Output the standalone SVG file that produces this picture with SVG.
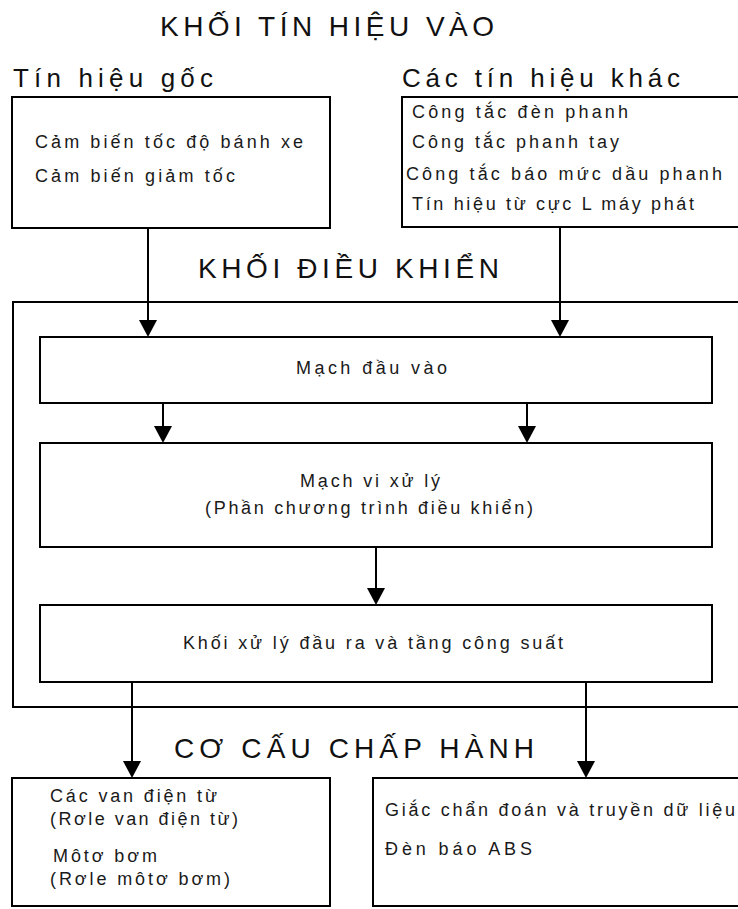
<svg xmlns="http://www.w3.org/2000/svg" width="738" height="909" viewBox="0 0 738 909">
<style>
  .box { fill: #ffffff; stroke: #000000; stroke-width: 2; }
  .title { font-family: "Liberation Sans", Arial, sans-serif; font-size: 28px; fill: #111111; }
  .sub { font-family: "Liberation Sans", Arial, sans-serif; font-size: 26px; fill: #111111; }
  .t { font-family: "Liberation Sans", Arial, sans-serif; font-size: 18px; fill: #1a1a1a; }
  .conn { stroke: #000000; stroke-width: 2; fill: none; marker-end: url(#arrow); }
</style>
<defs>
  <marker id="arrow" markerUnits="userSpaceOnUse" viewBox="0 0 17 18" markerWidth="17" markerHeight="18" refX="7" refY="9" orient="auto">
    <path d="M0,0 L17,9 L0,18 Z" fill="#000000"/>
  </marker>
</defs>
<rect width="738" height="909" fill="#ffffff"/>

<g id="labels">
  <text class="title" x="160" y="36" textLength="334" lengthAdjust="spacing">KHỐI TÍN HIỆU VÀO</text>
  <text class="sub" x="13" y="87" textLength="200" lengthAdjust="spacing">Tín hiệu gốc</text>
  <text class="sub" x="402" y="87" textLength="278" lengthAdjust="spacing">Các tín hiệu khác</text>
  <text class="title" x="198" y="278" textLength="301" lengthAdjust="spacing">KHỐI ĐIỀU KHIỂN</text>
  <text class="title" x="174" y="758" textLength="360" lengthAdjust="spacing">CƠ CẤU CHẤP HÀNH</text>
</g>

<g id="control-frame">
  <rect class="box" x="13" y="302" width="740" height="405"/>
</g>

<g id="node-tin-hieu-goc">
  <rect class="box" x="12" y="97" width="318" height="131"/>
  <text class="t" x="35" y="148" textLength="268" lengthAdjust="spacing">Cảm biến tốc độ bánh xe</text>
  <text class="t" x="35" y="182" textLength="200" lengthAdjust="spacing">Cảm biến giảm tốc</text>
</g>

<g id="node-cac-tin-hieu-khac">
  <rect class="box" x="402" y="97" width="350" height="130"/>
  <text class="t" x="412" y="118" textLength="216" lengthAdjust="spacing">Công tắc đèn phanh</text>
  <text class="t" x="412" y="148" textLength="207" lengthAdjust="spacing">Công tắc phanh tay</text>
  <text class="t" x="406" y="180" textLength="316" lengthAdjust="spacing">Công tắc báo mức dầu phanh</text>
  <text class="t" x="412" y="210" textLength="282" lengthAdjust="spacing">Tín hiệu từ cực L máy phát</text>
</g>

<g id="node-mach-dau-vao">
  <rect class="box" x="40" y="337" width="672" height="66"/>
  <text class="t" x="296" y="374" textLength="151" lengthAdjust="spacing">Mạch đầu vào</text>
</g>

<g id="node-mach-vi-xu-ly">
  <rect class="box" x="40" y="443" width="672" height="104"/>
  <text class="t" x="300" y="487" textLength="140" lengthAdjust="spacing">Mạch vi xử lý</text>
  <text class="t" x="205" y="514" textLength="328" lengthAdjust="spacing">(Phần chương trình điều khiển)</text>
</g>

<g id="node-khoi-xu-ly-dau-ra">
  <rect class="box" x="40" y="605" width="672" height="77"/>
  <text class="t" x="183" y="649" textLength="380" lengthAdjust="spacing">Khối xử lý đầu ra và tầng công suất</text>
</g>

<g id="node-van-dien-tu">
  <rect class="box" x="12" y="778" width="318" height="128"/>
  <text class="t" x="50" y="802" textLength="167" lengthAdjust="spacing">Các van điện từ</text>
  <text class="t" x="50" y="825" textLength="188" lengthAdjust="spacing">(Rơle van điện từ)</text>
  <text class="t" x="53" y="862" textLength="104" lengthAdjust="spacing">Môtơ bơm</text>
  <text class="t" x="50" y="885" textLength="180" lengthAdjust="spacing">(Rơle môtơ bơm)</text>
</g>

<g id="node-chan-doan">
  <rect class="box" x="373" y="778" width="380" height="128"/>
  <text class="t" x="385" y="816" textLength="350" lengthAdjust="spacing">Giắc chẩn đoán và truyền dữ liệu</text>
  <text class="t" x="385" y="855" textLength="147" lengthAdjust="spacing">Đèn báo ABS</text>
</g>

<g id="connectors">
  <line class="conn" x1="148" y1="228" x2="148" y2="327"/>
  <line class="conn" x1="560" y1="227" x2="560" y2="327"/>
  <line class="conn" x1="163" y1="403" x2="163" y2="433"/>
  <line class="conn" x1="527" y1="403" x2="527" y2="433"/>
  <line class="conn" x1="376" y1="547" x2="376" y2="595"/>
  <line class="conn" x1="132" y1="682" x2="132" y2="768"/>
  <line class="conn" x1="586" y1="682" x2="586" y2="768"/>
</g>
</svg>
